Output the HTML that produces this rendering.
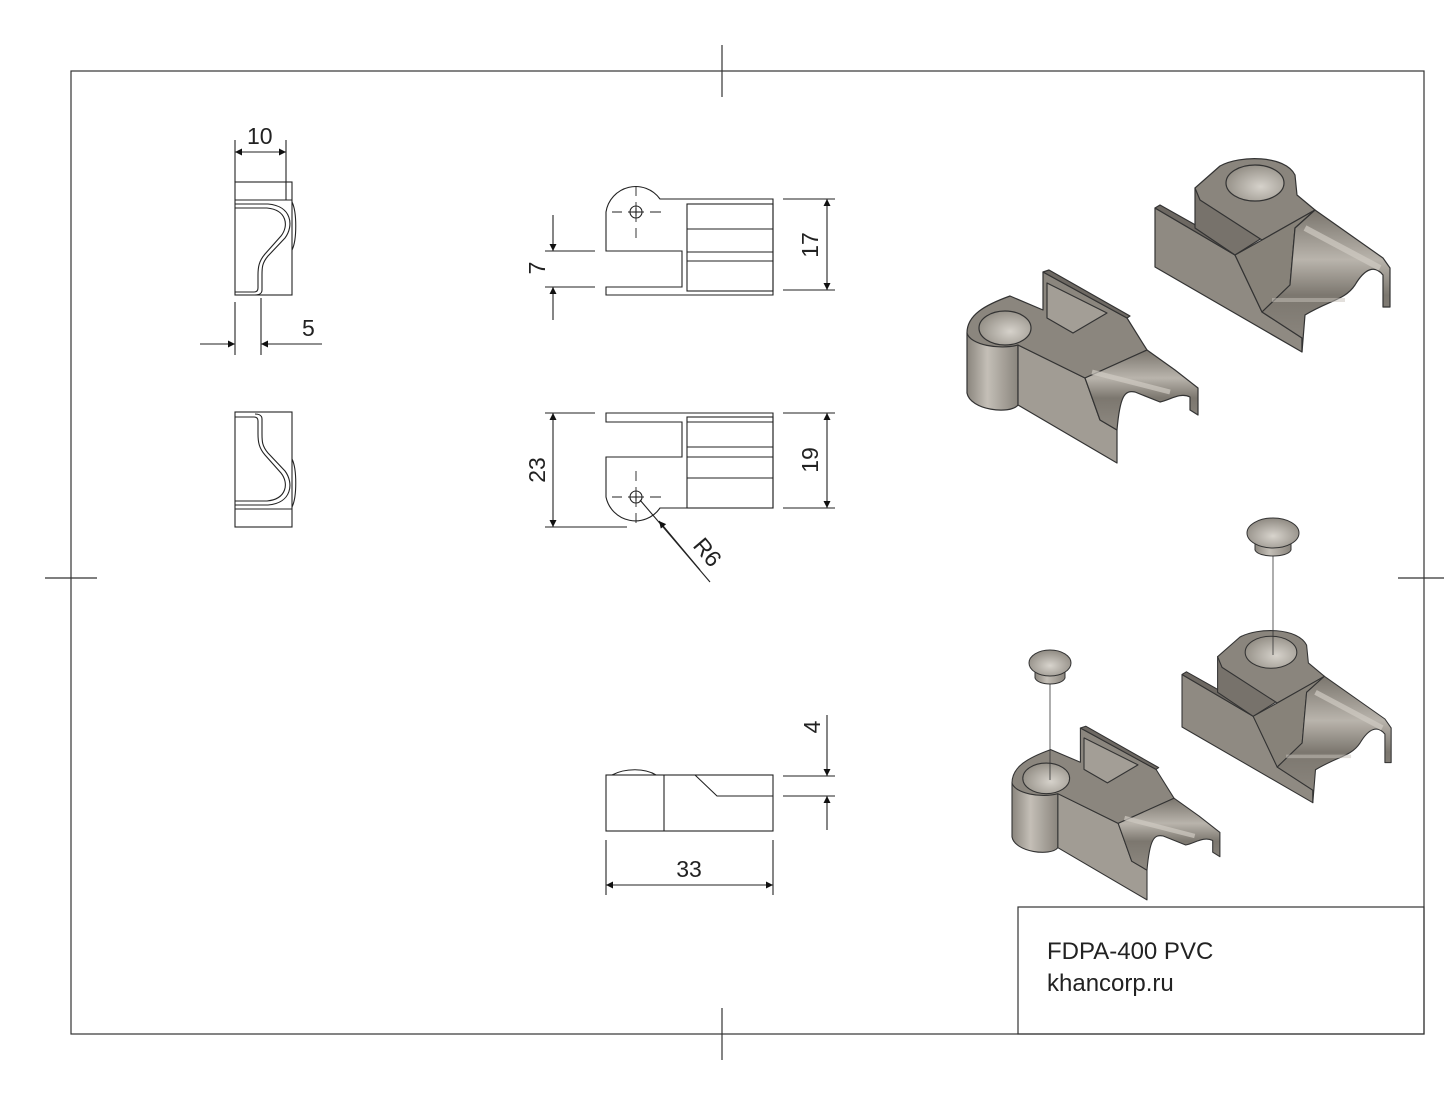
<!DOCTYPE html>
<html><head><meta charset="utf-8"><style>
html,body{margin:0;padding:0;background:#fff;}
svg{display:block;}
text{font-family:"Liberation Sans",Arial,sans-serif;fill:#222;}
</style></head><body>
<svg width="1444" height="1116" viewBox="0 0 1444 1116" xmlns="http://www.w3.org/2000/svg">
<defs>
<marker id="ar" viewBox="0 0 10 10" refX="10" refY="5" markerWidth="16" markerHeight="7" markerUnits="userSpaceOnUse" orient="auto"><path d="M0,0 L10,5 L0,10 Z" fill="#111"/></marker>
<linearGradient id="cyl" x1="0" x2="1" y1="0" y2="0"><stop offset="0" stop-color="#8a857d"/><stop offset="0.4" stop-color="#c4bfb7"/><stop offset="1" stop-color="#8a857d"/></linearGradient>
<radialGradient id="hole" cx="0.6" cy="0.6" r="0.7"><stop offset="0" stop-color="#d6d2cb"/><stop offset="1" stop-color="#8d887f"/></radialGradient>
<linearGradient id="ch" x1="0" x2="0" y1="0" y2="1"><stop offset="0" stop-color="#7a756d"/><stop offset="0.35" stop-color="#b9b4ac"/><stop offset="0.6" stop-color="#7c776f"/><stop offset="1" stop-color="#8e8981"/></linearGradient>
<radialGradient id="cap" cx="0.5" cy="0.6" r="0.6"><stop offset="0" stop-color="#d8d4cd"/><stop offset="1" stop-color="#8f8a82"/></radialGradient>
<g id="partA" stroke="#333" stroke-width="1.2" stroke-linejoin="round">
<path d="M967,333 L967,393 C970,410 1010,415 1018,405 L1018,345 Z" fill="url(#cyl)"/>
<path d="M1018,345 L1085,378 L1100,420 L1117,430 L1117,463 L1018,405 Z" fill="#a19c94"/>
<path d="M967,333 C967,315 985,305 1010,296 L1043,310 L1043,272 L1127,318 L1147,350 L1085,378 L1018,345 C1000,350 970,345 967,333 Z" fill="#8b867e"/>
<path d="M1047,283 L1107,313 L1073,333 L1047,318 Z" fill="#a39e96"/>
<path d="M1043,272 L1049,270 L1130,316 L1127,318 Z" fill="#6d6862"/>
<ellipse cx="1005" cy="328" rx="26" ry="17" fill="url(#hole)"/>
<path d="M1085,378 L1147,350 L1175,370 L1198,388 L1198,415 L1190,410 L1190,397 C1180,392 1170,400 1160,402 L1135,392 C1125,390 1120,395 1117,430 L1100,420 Z" fill="url(#ch)"/>
<path d="M1092,372 L1170,392" stroke="#d0cbc3" stroke-width="5" opacity="0.7"/>
</g>
<g id="partB" stroke="#333" stroke-width="1.2" stroke-linejoin="round">
<path d="M1155,208 L1235,255 L1262,312 L1302,338 L1302,352 L1155,267 Z" fill="#8f8a82"/>
<path d="M1155,208 L1160,205 L1240,250 L1235,255 Z" fill="#6d6862"/>
<path d="M1195,188 L1195,228 L1235,255 L1262,238 L1262,228 Z" fill="#77726b"/>
<path d="M1195,188 L1220,166 C1240,155 1285,155 1295,175 L1297,195 L1315,210 L1262,240 L1200,200 Z" fill="#8a857d"/>
<ellipse cx="1255" cy="183" rx="29" ry="18" fill="url(#hole)"/>
<path d="M1262,240 L1315,210 L1295,228 L1290,285 L1262,312 L1235,255 Z" fill="#878279"/>
<path d="M1295,228 L1315,210 L1383,258 L1390,268 L1390,307 L1383,307 L1383,275 C1375,265 1365,268 1355,285 C1345,300 1330,300 1305,315 L1302,352 L1302,338 L1262,312 L1290,285 Z" fill="url(#ch)"/>
<path d="M1305,228 L1380,268" stroke="#d0cbc3" stroke-width="6" opacity="0.7"/>
<path d="M1272,300 L1345,300" stroke="#c8c3bb" stroke-width="4" opacity="0.5"/>
</g>
</defs>

<rect x="71" y="71" width="1353" height="963" fill="none" stroke="#333" stroke-width="1.2"/>
<g stroke="#333" stroke-width="1.2">
<line x1="722" y1="45" x2="722" y2="97"/>
<line x1="722" y1="1008" x2="722" y2="1060"/>
<line x1="45" y1="578" x2="97" y2="578"/>
<line x1="1398" y1="578" x2="1444" y2="578"/>
</g>
<rect x="1018" y="907" width="406" height="127" fill="none" stroke="#333" stroke-width="1.2"/>
<text x="1047" y="959" font-size="24">FDPA-400 PVC</text>
<text x="1047" y="991" font-size="24">khancorp.ru</text>

<g fill="none" stroke="#222" stroke-width="1.1">
<rect x="235" y="182" width="57" height="113"/>
<line x1="235" y1="200" x2="292" y2="200"/>
<path d="M292,202 C297,212 297,240 292,250"/>
<path d="M235,204 L268,204 C292,206 294,226 285,238 L268,256 C262,263 262,268 262,275 L262,290 C262,294 258,295 255,295"/>
<path d="M235,208 L267,208 C287,210 289,226 281,236 L265,254 C259,261 258,267 258,275 L258,288 C258,291 256,292 254,292 L235,292"/>
<g transform="translate(0,709) scale(1,-1)">
<rect x="235" y="182" width="57" height="115"/>
<line x1="235" y1="200" x2="292" y2="200"/>
<path d="M292,202 C297,212 297,240 292,250"/>
<path d="M235,204 L268,204 C292,206 294,226 285,238 L268,256 C262,263 262,268 262,275 L262,290 C262,294 258,295 255,295"/>
<path d="M235,208 L267,208 C287,210 289,226 281,236 L265,254 C259,261 258,267 258,275 L258,288 C258,291 256,292 254,292 L235,292"/>
</g>
<line x1="235" y1="140" x2="235" y2="182"/>
<line x1="286" y1="140" x2="286" y2="200"/>
<line x1="260" y1="152" x2="235" y2="152" marker-end="url(#ar)"/>
<line x1="260" y1="152" x2="286" y2="152" marker-end="url(#ar)"/>
<line x1="235" y1="302" x2="235" y2="355"/>
<line x1="261" y1="298" x2="261" y2="355"/>
<line x1="200" y1="344" x2="235" y2="344" marker-end="url(#ar)"/>
<line x1="322" y1="344" x2="261" y2="344" marker-end="url(#ar)"/>

<path d="M606,251 L606,212 A30,30 0 0 1 660,199 L773,199 L773,295 L606,295 L606,287 L682,287 L682,251 Z"/>
<rect x="687" y="204" width="86" height="87"/>
<line x1="687" y1="229" x2="773" y2="229"/>
<line x1="687" y1="252" x2="773" y2="252"/>
<line x1="687" y1="261" x2="773" y2="261"/>
<circle cx="636" cy="212" r="6"/>
<line x1="632" y1="212" x2="640" y2="212"/><line x1="636" y1="208" x2="636" y2="216"/>
<path d="M612,212 H622 M628,212 H644 M650,212 H661 M636,186 V196 M636,202 V222 M636,228 V238" stroke-width="0.9"/>
<line x1="545" y1="251" x2="595" y2="251"/>
<line x1="545" y1="287" x2="595" y2="287"/>
<line x1="553" y1="215" x2="553" y2="251" marker-end="url(#ar)"/>
<line x1="553" y1="320" x2="553" y2="287" marker-end="url(#ar)"/>
<line x1="783" y1="199" x2="835" y2="199"/>
<line x1="783" y1="290" x2="835" y2="290"/>
<line x1="827" y1="245" x2="827" y2="199" marker-end="url(#ar)"/>
<line x1="827" y1="245" x2="827" y2="290" marker-end="url(#ar)"/>

<path d="M606,413 L773,413 L773,508 L660,508 A30,30 0 0 1 606,497 L606,457 L682,457 L682,422 L606,422 Z"/>
<rect x="687" y="417" width="86" height="91"/>
<line x1="687" y1="422" x2="773" y2="422"/>
<line x1="687" y1="447" x2="773" y2="447"/>
<line x1="687" y1="457" x2="773" y2="457"/>
<line x1="687" y1="478" x2="773" y2="478"/>
<circle cx="636" cy="497" r="6"/>
<line x1="632" y1="497" x2="640" y2="497"/><line x1="636" y1="493" x2="636" y2="501"/>
<path d="M612,497 H622 M628,497 H644 M650,497 H661 M636,471 V481 M636,487 V507 M636,513 V523" stroke-width="0.9"/>
<line x1="545" y1="413" x2="595" y2="413"/>
<line x1="545" y1="527" x2="627" y2="527"/>
<line x1="553" y1="470" x2="553" y2="413" marker-end="url(#ar)"/>
<line x1="553" y1="470" x2="553" y2="527" marker-end="url(#ar)"/>
<line x1="783" y1="413" x2="835" y2="413"/>
<line x1="783" y1="508" x2="835" y2="508"/>
<line x1="827" y1="460" x2="827" y2="413" marker-end="url(#ar)"/>
<line x1="827" y1="460" x2="827" y2="508" marker-end="url(#ar)"/>
<line x1="640" y1="500" x2="710" y2="582"/>
<line x1="700" y1="570" x2="659" y2="521" marker-end="url(#ar)"/>

<rect x="606" y="775" width="167" height="56"/>
<path d="M612,775 C625,768 645,768 656,775"/>
<line x1="664" y1="775" x2="664" y2="831"/>
<path d="M695,775 L717,796 L773,796"/>
<line x1="783" y1="776" x2="835" y2="776"/>
<line x1="783" y1="796" x2="835" y2="796"/>
<line x1="827" y1="715" x2="827" y2="776" marker-end="url(#ar)"/>
<line x1="827" y1="830" x2="827" y2="796" marker-end="url(#ar)"/>
<line x1="606" y1="840" x2="606" y2="895"/>
<line x1="773" y1="840" x2="773" y2="895"/>
<line x1="690" y1="885" x2="606" y2="885" marker-end="url(#ar)"/>
<line x1="690" y1="885" x2="773" y2="885" marker-end="url(#ar)"/>
</g>

<g font-size="23">
<text x="247" y="144">10</text>
<text x="302" y="336">5</text>
<text transform="translate(545,268) rotate(-90)" text-anchor="middle">7</text>
<text transform="translate(818,245) rotate(-90)" text-anchor="middle">17</text>
<text transform="translate(545,470) rotate(-90)" text-anchor="middle">23</text>
<text transform="translate(818,460) rotate(-90)" text-anchor="middle">19</text>
<text transform="translate(692,546) rotate(50)">R6</text>
<text transform="translate(820,727) rotate(-90)" text-anchor="middle">4</text>
<text x="689" y="877" text-anchor="middle">33</text>
</g>

<use href="#partA"/>
<use href="#partB"/>
<g transform="translate(1012,728) scale(0.9) translate(-967,-272)"><use href="#partA"/></g>
<g transform="translate(1182,630) scale(0.89) translate(-1155,-158)"><use href="#partB"/></g>
<g stroke="#333" stroke-width="1">
<line x1="1273" y1="555" x2="1273" y2="655" stroke-width="0.8"/>
<path d="M1255,538 L1255,550 C1258,558 1288,558 1291,550 L1291,538 Z" fill="url(#cyl)"/>
<ellipse cx="1273" cy="533" rx="26" ry="15" fill="url(#cap)"/>
<line x1="1050" y1="683" x2="1050" y2="780" stroke-width="0.8"/>
<path d="M1035,667 L1035,678 C1038,686 1062,686 1065,678 L1065,667 Z" fill="url(#cyl)"/>
<ellipse cx="1050" cy="663" rx="21" ry="13" fill="url(#cap)"/>
</g>
</svg>
</body></html>
